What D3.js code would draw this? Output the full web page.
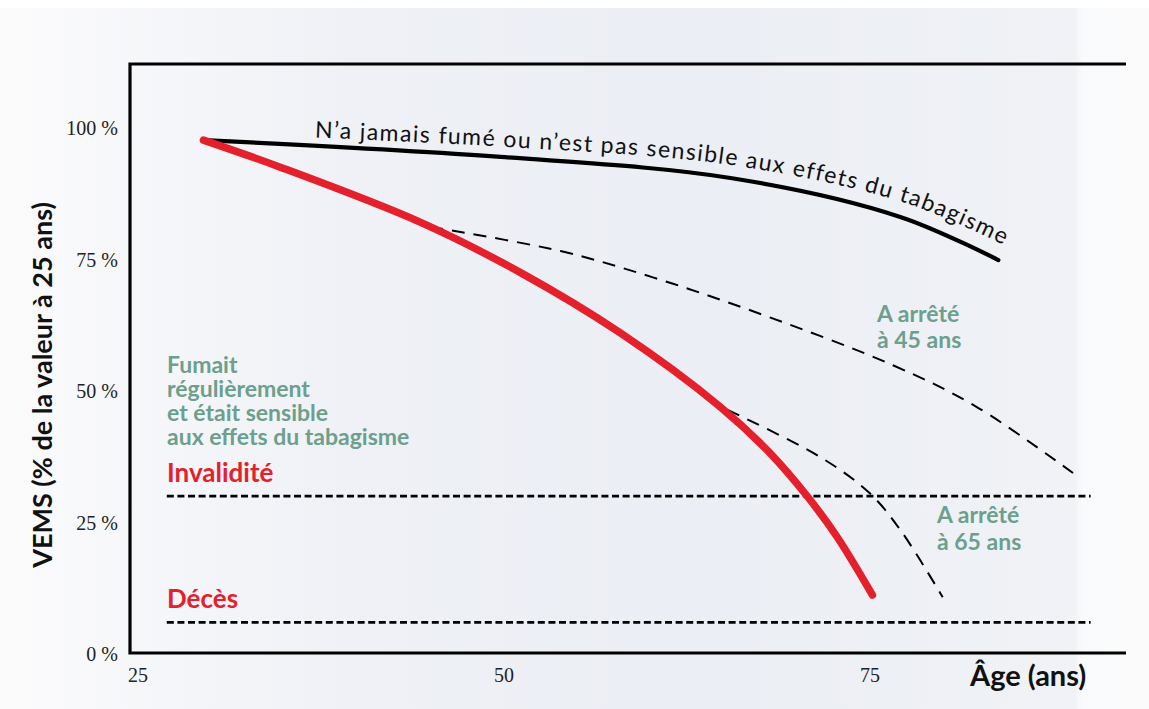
<!DOCTYPE html>
<html lang="fr">
<head>
<meta charset="utf-8">
<title>VEMS selon l'âge</title>
<script src="https://cdn.jsdelivr.net/npm/d3@7"></script>
<style>
  html, body { margin: 0; padding: 0; background: #fff; }
  svg { display: block; }
  .tick-label { font-family: "Liberation Serif", serif; font-size: 20px; fill: #222; }
  .axis-title { font-family: Lato, sans-serif; font-weight: bold; font-size: 27px; fill: #111; }
  .note { font-family: Lato, sans-serif; font-weight: bold; font-size: 23px; fill: #6c9f8c; }
  .danger { font-family: Lato, sans-serif; font-weight: bold; font-size: 26px; fill: #e3202b; }
  .curve-label { font-family: Lato, sans-serif; font-size: 23px; fill: #111; }
</style>
</head>
<body>
<svg id="chart" width="1149" height="709"></svg>
<script>
"use strict";

// graduations
const xTicks = [25, 50, 75];
const yTicks = [0, 25, 50, 75, 100];
const yTickLabels = ["0 %", "25 %", "50 %", "75 %", "100 %"];

// N'a jamais fumé ou n'est pas sensible
const neverAges = [29.4, 49.7, 65.4, 77.0, 83.7];
const neverVems = [97.7, 94.5, 90.5, 83.1, 74.9];
// Fumait régulièrement et était sensible
const smokerAges = [29.4, 34.6, 44.2, 51.0, 57.9, 64.7, 68.1, 70.7, 72.7, 75.1];
const smokerVems = [97.7, 92.6, 82.1, 72.6, 61.0, 47.0, 38.2, 29.8, 22.2, 11.2];
// A arrêté à 45 ans
const stop45Ages = [44.9, 53.8, 60.1, 66.9, 76.5, 82.2, 88.8];
const stop45Vems = [81.2, 76.6, 71.6, 65.2, 54.9, 47.0, 34.4];
// A arrêté à 65 ans
const stop65Ages = [65.2, 71.5, 74.9, 77.0, 79.9];
const stop65Vems = [46.4, 37.5, 30.6, 23.6, 10.8];
// seuils
const thresholdNames = ["Invalidité", "Décès"];
const thresholdVems = [30, 6];
const thresholdAges = [26.9, 90.0];

const zip = (a, b) => a.map((v, i) => [v, b[i]]);

let frame = {left: 130, right: 1126, top: 64, bottom: 653};

let svg = d3.select("#chart");

// fond dégradé
let defs = svg.append("defs");
let grad = defs.append("linearGradient").attr("id", "bg").attr("x1", 0).attr("x2", 1).attr("y1", 0).attr("y2", 0);
[[0, "#fbfbfc"], [0.3, "#eff1f6"], [0.6, "#ebeef4"], [0.935, "#f0f2f6"], [0.942, "#f9fafb"], [1, "#fbfbfc"]]
    .forEach(([o, c]) => grad.append("stop").attr("offset", o).attr("stop-color", c));
svg.append("rect").attr("x", 0).attr("y", 8).attr("width", 1149).attr("height", 701).attr("fill", "url(#bg)");

let x = d3.scaleLinear().domain([25, 75]).range([139, 871]);
let y = d3.scaleLinear().domain([0, 100]).range([654, 128]);

// cadre (gauche, haut, bas)
svg.append("path")
    .attr("d", `M${frame.right},${frame.top}H${frame.left}V${frame.bottom}H${frame.right}`)
    .attr("fill", "none")
    .attr("stroke", "#000")
    .attr("stroke-width", 3.2);

// étiquettes des axes
svg.append("g").selectAll("text")
    .data(yTicks)
    .join("text")
    .attr("class", "tick-label")
    .attr("x", 118)
    .attr("y", d => y(d))
    .attr("dy", "0.35em")
    .attr("text-anchor", "end")
    .text((d, i) => yTickLabels[i]);

svg.append("g").selectAll("text")
    .data(xTicks)
    .join("text")
    .attr("class", "tick-label")
    .attr("x", d => x(d) - 1)
    .attr("y", 682)
    .attr("text-anchor", "middle")
    .text(d => d);

svg.append("text")
    .attr("class", "axis-title")
    .attr("transform", "translate(52,385) rotate(-90)")
    .attr("text-anchor", "middle")
    .text("VEMS (% de la valeur à 25 ans)");

svg.append("text")
    .attr("class", "axis-title")
    .attr("x", 970)
    .attr("y", 686)
    .style("font-size", "29px")
    .text("Âge (ans)");

// seuils
let thr = svg.append("g");
thr.selectAll("line")
    .data(thresholdVems)
    .join("line")
    .attr("x1", x(thresholdAges[0]))
    .attr("x2", x(thresholdAges[1]))
    .attr("y1", d => y(d))
    .attr("y2", d => y(d))
    .attr("stroke", "#000")
    .attr("stroke-width", 2.8)
    .attr("stroke-dasharray", "7,3.6");
thr.selectAll("text")
    .data(thresholdVems)
    .join("text")
    .attr("class", "danger")
    .attr("x", 167)
    .attr("y", d => y(d) - 14)
    .text((d, i) => thresholdNames[i]);

// courbes
let line = d3.line()
    .x(d => x(d[0]))
    .y(d => y(d[1]))
    .curve(d3.curveCatmullRom.alpha(0.5));

let curves = svg.append("g").attr("fill", "none");

[zip(stop45Ages, stop45Vems), zip(stop65Ages, stop65Vems)].forEach(pts => {
    curves.append("path")
        .attr("d", line(pts))
        .attr("stroke", "#000")
        .attr("stroke-width", 2)
        .attr("stroke-dasharray", "13,9");
});

let neverPath = curves.append("path")
    .attr("d", line(zip(neverAges, neverVems)))
    .attr("stroke", "#000")
    .attr("stroke-width", 4.2)
    .attr("stroke-linecap", "round");

curves.append("path")
    .attr("d", line(zip(smokerAges, smokerVems)))
    .attr("stroke", "#e3202b")
    .attr("stroke-width", 7.5)
    .attr("stroke-linecap", "round");

// texte qui suit la courbe des non-fumeurs
(function curveLabel() {
    let node = neverPath.node();
    let total = node.getTotalLength();
    let pts = [];
    for (let s = 0; s <= total; s += 3) {
        let p = node.getPointAtLength(s);
        let q = node.getPointAtLength(Math.min(total, s + 1));
        let r = node.getPointAtLength(Math.max(0, s - 1));
        let dx = q.x - r.x, dy = q.y - r.y;
        let n = Math.hypot(dx, dy) || 1;
        dx /= n; dy /= n;
        let off = 7 + 9 * s / total;  // l'écart grandit vers la fin
        pts.push([p.x + dy * off, p.y - dx * off]);
    }
    // prolonger un peu dans la direction de la tangente
    let [a, b] = pts.slice(-2);
    let tx = b[0] - a[0], ty = b[1] - a[1], tn = Math.hypot(tx, ty);
    pts.push([b[0] + tx / tn * 50, b[1] + ty / tn * 50]);

    defs.append("path").attr("id", "never-label-path").attr("d", d3.line()(pts));

    // longueur visée : du x=313 au x=1001
    let acc = 0, startLen = 0, endLen = 0;
    for (let i = 1; i < pts.length; i++) {
        acc += Math.hypot(pts[i][0] - pts[i - 1][0], pts[i][1] - pts[i - 1][1]);
        if (!startLen && pts[i][0] >= 313) startLen = acc;
        if (!endLen && pts[i][0] >= 1001) endLen = acc;
    }

    let label = "N’a jamais fumé ou n’est pas sensible aux effets du tabagisme";
    let txt = svg.append("text").attr("class", "curve-label");
    txt.append("textPath")
        .attr("href", "#never-label-path")
        .attr("startOffset", startLen)
        .text(label);
    let natural = txt.node().getComputedTextLength();
    let spacing = (endLen - startLen - natural) / (label.length - 1);
    txt.attr("letter-spacing", spacing);
})();

// annotations
let notes = [
    {x: 167, y: 373, lh: 24, lines: ["Fumait", "régulièrement", "et était sensible", "aux effets du tabagisme"]},
    {x: 877, y: 322, lh: 26, lines: ["A arrêté", "à 45 ans"]},
    {x: 937, y: 523, lh: 27, lines: ["A arrêté", "à 65 ans"]},
];
notes.forEach(n => {
    svg.append("text")
        .attr("class", "note")
        .selectAll("tspan")
        .data(n.lines)
        .join("tspan")
        .attr("x", n.x)
        .attr("y", (d, i) => n.y + i * n.lh)
        .text(d => d);
});
</script>
</body>
</html>
